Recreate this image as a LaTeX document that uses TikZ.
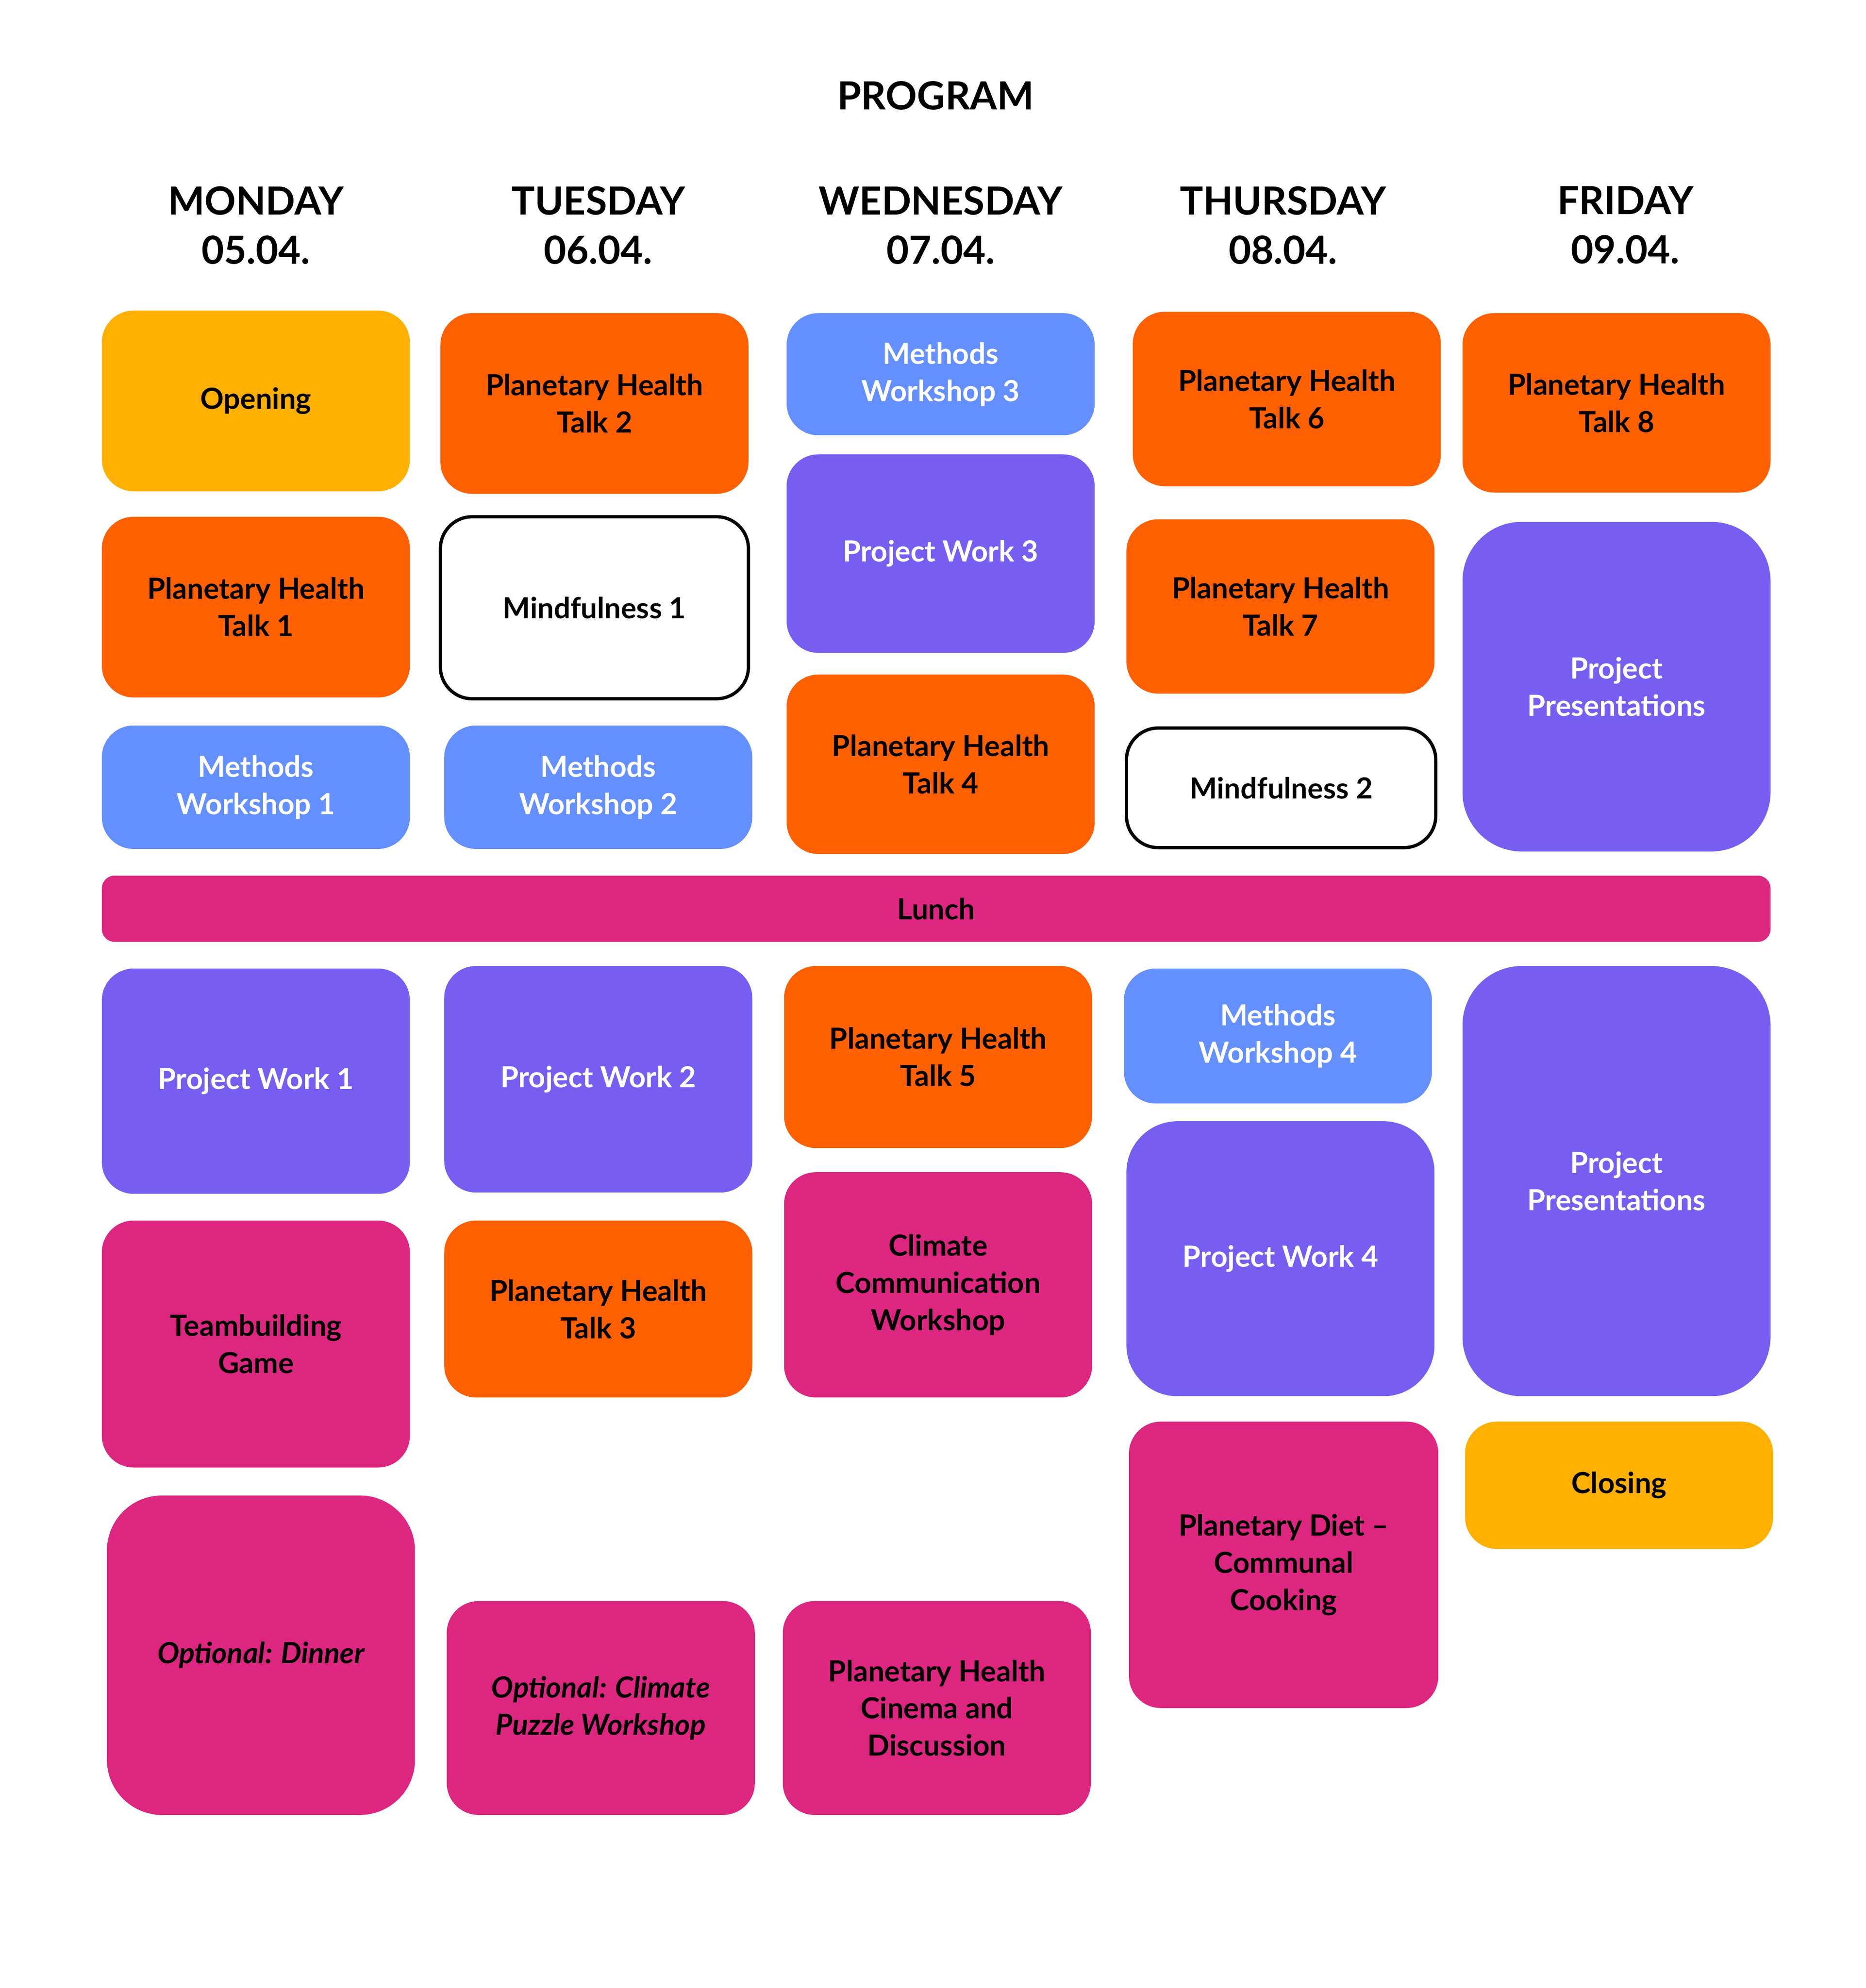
\documentclass[tikz,border=0pt]{standalone}
\usepackage{fontspec}
\setmainfont{Lato}
\usetikzlibrary{fit}
\definecolor{cor}{HTML}{FF6000}
\definecolor{cye}{HTML}{FFB000}
\definecolor{cbl}{HTML}{648FFF}
\definecolor{cpu}{HTML}{785EF0}
\definecolor{cma}{HTML}{DC267F}
\tikzset{
 box/.style={inner sep=0pt, rounded corners=0.75cm, align=center, font=\fontsize{19.5}{25}\selectfont\bfseries},
 or/.style={box, fill=cor, text=black},
 ye/.style={box, fill=cye, text=black},
 bl/.style={box, fill=cbl, text=white},
 pu/.style={box, fill=cpu, text=white},
 ma/.style={box, fill=cma, text=black},
 wh/.style={box, fill=white, draw=black, line width=2.2pt, text=black},
 head/.style={align=center, font=\fontsize{26}{33}\selectfont\bfseries}
}
\newcommand\bx[7]{\node[#6, fit={(#2,#3)(#4,#5)}] (#1) {};\node[#6, fill=none, draw=none] (#1t) at (#1.center) {#7};}
\begin{document}
\begin{tikzpicture}[x=0.03cm,y=-0.03cm]
\useasboundingbox[fill=white] (0,0) rectangle (1466,1562);
\node[head] (title) at (735,75) {PROGRAM};
\node[head] (d1) at (201,177) {MONDAY\\05.04.};
\node[head] (d2) at (470,177) {TUESDAY\\06.04.};
\node[head] (d3) at (739,177) {WEDNESDAY\\07.04.};
\node[head] (d4) at (1008,177) {THURSDAY\\08.04.};
\node[head] (d5) at (1277,177) {FRIDAY\\09.04.};
% Monday
\bx{m1}{80}{244}{322}{386}{ye}{Opening}
\bx{m2}{80}{406}{322}{548}{or}{Planetary Health\\Talk 1}
\bx{m3}{80}{570}{322}{667}{bl}{Methods\\Workshop 1}
\bx{m4}{80}{761}{322}{938}{pu}{Project Work 1}
\bx{m5}{80}{959}{322}{1153}{ma}{Teambuilding\\Game}
\bx{m6}{84}{1175}{326}{1426}{ma,rounded corners=1.3cm}{\itshape Optional: Dinner}
% Tuesday
\bx{t1}{346}{246}{588}{388}{or}{Planetary Health\\Talk 2}
\bx{t2}{346}{406}{588}{549}{wh}{Mindfulness 1}
\bx{t3}{349}{570}{591}{667}{bl}{Methods\\Workshop 2}
\bx{t4}{349}{759}{591}{937}{pu}{Project Work 2}
\bx{t5}{349}{959}{591}{1098}{or}{Planetary Health\\Talk 3}
\bx{t6}{351}{1258}{593}{1426}{ma}{\itshape Optional: Climate\\\itshape Puzzle Workshop}
% Wednesday
\bx{w1}{618}{246}{860}{342}{bl}{Methods\\Workshop 3}
\bx{w2}{618}{357}{860}{513}{pu}{Project Work 3}
\bx{w3}{618}{530}{860}{671}{or}{Planetary Health\\Talk 4}
\bx{w4}{616}{759}{858}{902}{or}{Planetary Health\\Talk 5}
\bx{w5}{616}{921}{858}{1098}{ma}{Climate\\Communication\\Workshop}
\bx{w6}{615}{1258}{857}{1426}{ma}{Planetary Health\\Cinema and\\Discussion}
% Thursday
\bx{h1}{890}{245}{1132}{382}{or}{Planetary Health\\Talk 6}
\bx{h2}{885}{408}{1127}{545}{or}{Planetary Health\\Talk 7}
\bx{h3}{885}{572}{1128}{666}{wh}{Mindfulness 2}
\bx{h4}{883}{761}{1125}{867}{bl}{Methods\\Workshop 4}
\bx{h5}{885}{881}{1127}{1097}{pu,rounded corners=1.2cm}{Project Work 4}
\bx{h6}{887}{1117}{1130}{1342}{ma}{Planetary Diet --\\Communal\\Cooking}
% Friday
\bx{f1}{1149}{246}{1391}{387}{or}{Planetary Health\\Talk 8}
\bx{f2}{1149}{410}{1391}{669}{pu,rounded corners=1.4cm}{Project\\Presentations}
\bx{f3}{1149}{759}{1391}{1097}{pu,rounded corners=1.4cm}{Project\\Presentations}
\bx{f4}{1151}{1117}{1393}{1217}{ye}{Closing}
% Lunch
\bx{lunch}{80}{688}{1391}{740}{ma,rounded corners=0.3cm}{Lunch}
\end{tikzpicture}
\end{document}
